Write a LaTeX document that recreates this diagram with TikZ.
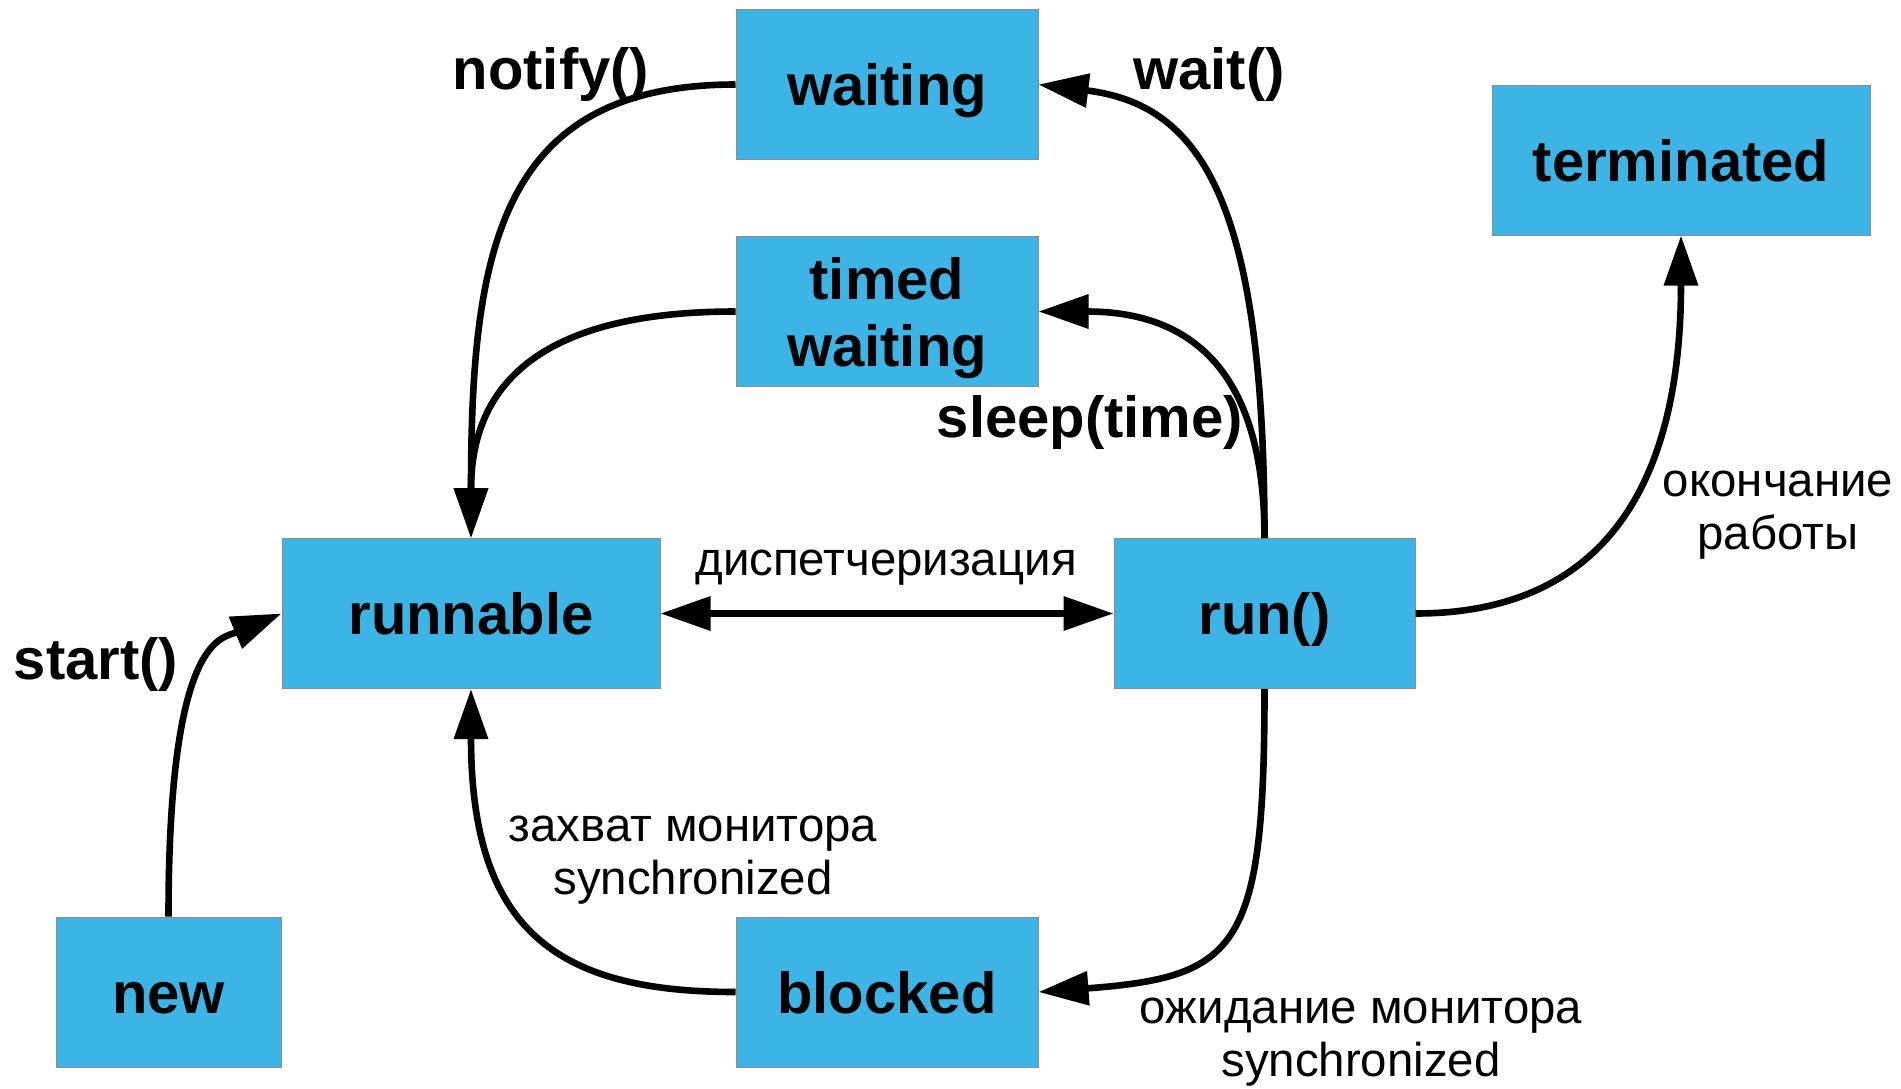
\documentclass[tikz,border=0pt]{standalone}
\usepackage{fontspec}
\setmainfont{Liberation Sans}
\usetikzlibrary{arrows.meta}
\definecolor{stateblue}{RGB}{61,180,230}
\definecolor{stateedge}{RGB}{140,140,140}
\begin{document}
\begin{tikzpicture}[x=0.5pt, y=-0.5pt,
        state/.style={draw=stateedge, line width=0.5pt, fill=stateblue, inner sep=0pt,
            minimum height=75pt, align=center, text height=21pt, text depth=0pt,
            font=\fontsize{29}{33.5}\selectfont\bfseries},
        trans/.style={line width=3.3pt, -{Triangle[length=25pt,width=16.5pt]}},
        method/.style={inner sep=0pt, font=\fontsize{29}{33}\selectfont\bfseries},
        note/.style={inner sep=0pt, align=center, font=\fontsize{23.7}{26.5}\selectfont}]
    \useasboundingbox (0,0) rectangle (1901,1088);

    \node[state, minimum width=151pt] (waiting) at (887,84.5) {waiting};
    \node[state, minimum width=151pt, text height=54.5pt] (timed) at (887,311.5) {timed\\waiting};
    \node[state, minimum width=189pt] (terminated) at (1681,160) {terminated};
    \node[state, minimum width=189pt] (runnable) at (471,613.5) {runnable};
    \node[state, minimum width=150.5pt] (run) at (1264.5,613.5) {run()};
    \node[state, minimum width=112.5pt] (new) at (168.5,992) {new};
    \node[state, minimum width=151pt] (blocked) at (887,992) {blocked};

    \node[method] (notify) at (551,74) {notify()};
    \node[method] (wait) at (1209,74) {wait()};
    \node[method] (sleep) at (1090,422) {sleep(time)};
    \node[method] (start) at (96,664) {start()};
    \node[note] (dispatch) at (886,568) {диспетчеризация};
    \node[note] (acquire) at (693,860) {захват монитора\\synchronized};
    \node[note] (await) at (1361,1042) {ожидание монитора\\synchronized};
    \node[note] (finish) at (1778,515) {окончание\\работы};

    \draw[trans] (waiting.west) .. controls +(-236,0) and +(0,-288) .. (runnable.north);
    \draw[trans] (timed.west) .. controls +(-200,0) and +(0,-150) .. (runnable.north);
    \draw[trans] (run.north) .. controls +(0,-338) and +(162,20) .. (waiting.east);
    \draw[trans] (run.north) .. controls +(0,-170) and +(150,0) .. (timed.east);
    \draw[trans, {Triangle[length=25pt,width=16.5pt]}-{Triangle[length=25pt,width=16.5pt]}] (runnable.east) -- (run.west);
    \draw[trans] (run.east) .. controls +(180,0) and +(0,260) .. (terminated.south);
    \draw[trans] (run.south) .. controls +(0,260) and +(200,-15) .. (blocked.east);
    \draw[trans] (blocked.west) .. controls +(-180,0) and +(0,240) .. (runnable.south);
    \draw[trans] (new.north) .. controls +(0,-280) and +(-60,25) .. (runnable.west);
\end{tikzpicture}
\end{document}
